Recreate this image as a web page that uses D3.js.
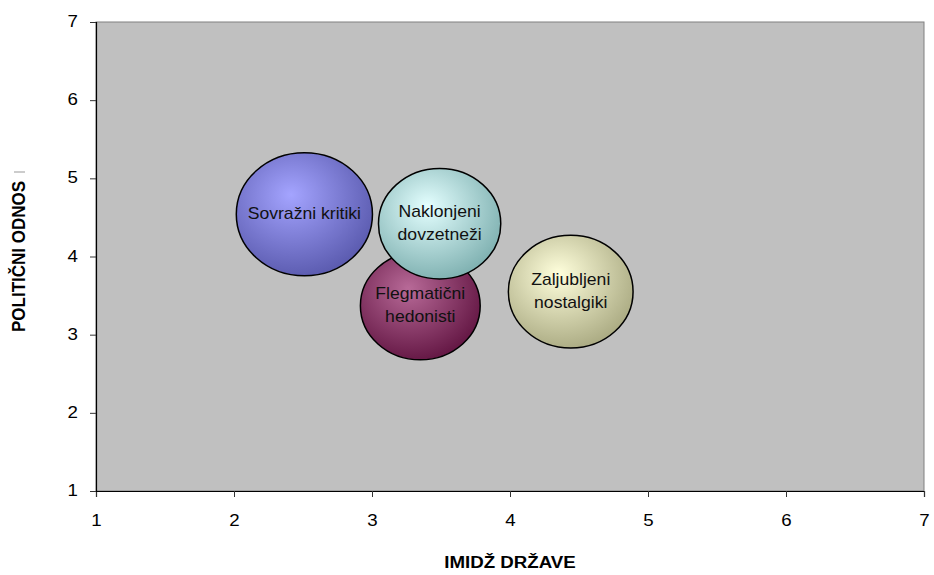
<!DOCTYPE html>
<html>
<head>
<meta charset="utf-8">
<script src="https://cdn.jsdelivr.net/npm/d3@7.9.0/dist/d3.min.js"></script>
<style>
  body { margin: 0; background: #fff; }
  svg text { font-family: "Liberation Sans", Arial, sans-serif; }
</style>
</head>
<body>
<svg id="chart" width="934" height="575"></svg>
<script>
const segments = ['Sovražni kritiki', 'Flegmatični hedonisti', 'Naklonjeni dovzetneži', 'Zaljubljeni nostalgiki'];
const imidz = [2.51, 3.35, 3.49, 4.44];
const odnosi = [4.54, 3.37, 4.42, 3.55];
const sizes = [31, 24, 25, 26];
const labelLines = [['Sovražni kritiki'], ['Flegmatični', 'hedonisti'], ['Naklonjeni', 'dovzetneži'], ['Zaljubljeni', 'nostalgiki']];
const ticks = [1, 2, 3, 4, 5, 6, 7];

const colors = [
  { hi: '#a4a4ff', lo: '#5a5aae' },
  { hi: '#b86a98', lo: '#631643' },
  { hi: '#e4ffff', lo: '#7eb0b0' },
  { hi: '#ffffdc', lo: '#aaaa82' }
];

// the original picture is stretched horizontally by about 10%
const stretch = 1.1;

const svg = d3.select('#chart');
const margin = { left: 96, right: 10, top: 22, bottom: 84 };
const width = 934 - margin.left - margin.right;
const height = 575 - margin.top - margin.bottom;

const x = d3.scaleLinear().domain([1, 7]).range([margin.left, margin.left + width]);
const y = d3.scaleLinear().domain([1, 7]).range([margin.top + height, margin.top]);
const r = d3.scaleSqrt().domain([0, 31]).range([0, 61.5]);

// plot area
svg.append('rect')
  .attr('x', x(1)).attr('y', y(7))
  .attr('width', x(7) - x(1)).attr('height', y(1) - y(7))
  .attr('fill', '#c0c0c0')
  .attr('stroke', '#808080')
  .attr('stroke-width', 1);

const defs = svg.append('defs');
colors.forEach((c, i) => {
  let g = defs.append('radialGradient')
    .attr('id', 'grad' + i)
    .attr('cx', '42%').attr('cy', '38%').attr('r', '65%')
    .attr('fx', '40%').attr('fy', '34%');
  g.append('stop').attr('offset', '0%').attr('stop-color', c.hi);
  g.append('stop').attr('offset', '100%').attr('stop-color', c.lo);
});

// axes
const xAxis = d3.axisBottom(x).tickValues(ticks).tickSize(6).tickFormat(d3.format('d'));
const yAxis = d3.axisLeft(y).tickValues(ticks).tickSize(6).tickFormat(d3.format('d'));

const gx = svg.append('g').attr('transform', `translate(0,${y(1)})`).call(xAxis);
const gy = svg.append('g').attr('transform', `translate(${x(1)},0)`).call(yAxis);

[gx, gy].forEach((g) => {
  g.select('.domain').attr('stroke', '#000').attr('stroke-width', 1.2);
  g.selectAll('.tick line').attr('stroke', '#333');
  g.selectAll('.tick text').attr('font-size', 17).attr('fill', '#000');
});
gx.selectAll('.tick text').attr('y', 0).attr('dy', 0)
  .attr('transform', `translate(0,35) scale(${stretch},1)`);
gy.selectAll('.tick text').attr('x', 0).attr('dy', '0.33em')
  .attr('transform', `translate(-18,-1) scale(${stretch},1)`);

// bubbles
segments.forEach((name, i) => {
  let cx = x(imidz[i]);
  let cy = y(odnosi[i]);
  let ry = r(sizes[i]);
  svg.append('ellipse')
    .attr('cx', cx).attr('cy', cy)
    .attr('rx', ry * 1.107).attr('ry', ry)
    .attr('fill', `url(#grad${i})`)
    .attr('stroke', '#000')
    .attr('stroke-width', 1.5);

  let lines = labelLines[i];
  let t = svg.append('text')
    .attr('transform', `translate(${cx},${cy - (lines.length - 1) * 11.5 + 5}) scale(${stretch},1)`)
    .attr('text-anchor', 'middle')
    .attr('font-size', 16)
    .attr('fill', '#111');
  lines.forEach((ln, j) => {
    t.append('tspan').attr('x', 0).attr('dy', j === 0 ? 0 : 23).text(ln);
  });
});

// axis titles
svg.append('text')
  .attr('transform', `translate(${(x(1) + x(7)) / 2},568) scale(${stretch},1)`)
  .attr('text-anchor', 'middle')
  .attr('font-size', 17).attr('font-weight', 'bold')
  .text('IMIDŽ DRŽAVE');

svg.append('text')
  .attr('transform', `translate(25,${(y(1) + y(7)) / 2}) scale(${stretch},1) rotate(-90)`)
  .attr('text-anchor', 'middle')
  .attr('font-size', 17).attr('font-weight', 'bold')
  .text('POLITIČNI ODNOS');

// small mark left after the title in the original
svg.append('line')
  .attr('x1', 14).attr('x2', 25)
  .attr('y1', 172).attr('y2', 172)
  .attr('stroke', '#999').attr('stroke-width', 1);
</script>
</body>
</html>
